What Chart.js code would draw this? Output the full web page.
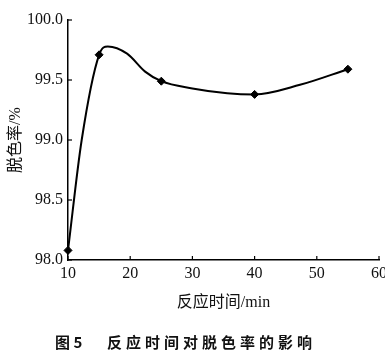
<!DOCTYPE html>
<html>
<head>
<meta charset="utf-8">
<script src="https://cdn.jsdelivr.net/npm/chart.js@4"></script>
<style>
  html, body { margin: 0; padding: 0; background: #fff; }
  #wrap { position: relative; width: 385px; height: 357px; }
  #caption { position: absolute; top: 331px; left: 55px; font: bold 15px "Noto Sans CJK SC", sans-serif; color: #111; white-space: nowrap; }
  #caption .main { position: absolute; left: 52px; letter-spacing: 4px; }
</style>
</head>
<body>
<div id="wrap">
  <canvas id="chart" width="385" height="357"></canvas>
  <div id="caption"><span>图 5</span><span class="main">反应时间对脱色率的影响</span></div>
</div>
<script>
  // measured points: reaction time (min) vs decolorization rate (%)
  const times = [10, 15, 25, 40, 55];
  const rates = [98.08, 99.71, 99.49, 99.38, 99.59];
  // the hand-drawn smooth curve
  const curveTimes = [10, 12.2, 15, 16.4, 19.5, 22.4, 25, 30, 35.6, 40, 47.3, 55];
  const curveRates = [98.08, 99.0, 99.71, 99.78, 99.72, 99.57, 99.49, 99.43, 99.39, 99.38, 99.46, 99.59];
  const xTicks = [10, 20, 30, 40, 50, 60];
  const yTicks = [98.0, 98.5, 99.0, 99.5, 100.0];

  const serif = '"Liberation Serif", "Noto Sans CJK SC", serif';

  // small tick marks pointing into the plot, like the printed figure
  const innerTicks = {
    id: 'innerTicks',
    afterDraw(chart) {
      const { ctx, chartArea, scales } = chart;
      ctx.save();
      ctx.strokeStyle = '#000';
      ctx.lineWidth = 1.2;
      xTicks.forEach(v => {
        const px = scales.x.getPixelForValue(v);
        ctx.beginPath();
        ctx.moveTo(px, chartArea.bottom);
        ctx.lineTo(px, chartArea.bottom - 4);
        ctx.stroke();
      });
      yTicks.forEach(v => {
        const py = scales.y.getPixelForValue(v);
        ctx.beginPath();
        ctx.moveTo(chartArea.left, py);
        ctx.lineTo(chartArea.left + 4, py);
        ctx.stroke();
      });
      ctx.restore();
    }
  };

  new Chart(document.getElementById('chart'), {
    type: 'line',
    data: {
      datasets: [{
        data: curveTimes.map((t, i) => ({ x: t, y: curveRates[i] })),
        borderColor: '#000',
        borderWidth: 2,
        cubicInterpolationMode: 'monotone',
        pointRadius: 0,
        fill: false,
        clip: false,
      }, {
        data: times.map((t, i) => ({ x: t, y: rates[i] })),
        showLine: false,
        pointStyle: 'rectRot',
        pointRadius: 4,
        pointBackgroundColor: '#000',
        pointBorderColor: '#000',
        clip: false,
      }],
    },
    options: {
      responsive: false,
      animation: false,
      layout: { padding: { top: 20, right: 6, bottom: 37, left: 0 } },
      plugins: { legend: { display: false }, tooltip: { enabled: false } },
      scales: {
        x: {
          type: 'linear',
          min: 10, max: 60,
          afterBuildTicks: s => { s.ticks = xTicks.map(v => ({ value: v })); },
          afterFit: s => { s.height = 60; s.paddingLeft = 0; s.paddingRight = 0; },
          grid: { display: false, drawTicks: false },
          border: { display: true, color: '#000', width: 1.5 },
          ticks: { color: '#111', padding: 4, font: { family: serif, size: 16 }, maxRotation: 0 },
          title: { display: true, text: '反应时间/min', color: '#111', padding: { top: 0, bottom: 8 }, font: { family: serif, size: 16 } },
        },
        y: {
          min: 98, max: 100,
          afterBuildTicks: s => { s.ticks = yTicks.map(v => ({ value: v })); },
          afterFit: s => { s.width = 68; s.paddingTop = 0; s.paddingBottom = 0; },
          grid: { display: false, drawTicks: false },
          border: { display: true, color: '#000', width: 1.5 },
          ticks: { color: '#111', padding: 5, font: { family: serif, size: 16 }, callback: v => v.toFixed(1) },
          title: { display: true, text: '脱色率/%', color: '#111', padding: { top: 6, bottom: 0 }, font: { family: serif, size: 16 } },
        },
      },
    },
    plugins: [innerTicks],
  });
</script>
</body>
</html>
